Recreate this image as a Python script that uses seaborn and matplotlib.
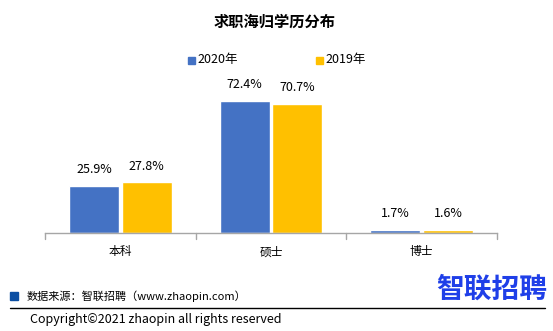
import matplotlib
matplotlib.use("Agg")
import matplotlib.pyplot as plt
import seaborn as sns
import pandas as pd
from matplotlib.patches import Rectangle
from matplotlib.lines import Line2D

categories = ["本科", "硕士", "博士"]
series_names = ["2020年", "2019年"]
values_2020 = [25.9, 72.4, 1.7]
values_2019 = [27.8, 70.7, 1.6]
colors = ["#4472C4", "#FFC000"]

sns.set_theme(style="white")
plt.rcParams["font.family"] = ["Noto Sans CJK SC", "DejaVu Sans"]

df = pd.DataFrame({
    "cat": categories * 2,
    "year": [series_names[0]] * 3 + [series_names[1]] * 3,
    "val": values_2020 + values_2019,
})

W, H = 553, 331
fig = plt.figure(figsize=(W / 100, H / 100), dpi=100)
ax = fig.add_axes([45 / W, 1 - 233 / H, 452 / W, (233 - 69) / H])

sns.barplot(data=df, x="cat", y="val", hue="year", order=categories,
            hue_order=series_names, palette=colors, width=0.70, gap=0.05,
            saturation=1, ax=ax, legend=False, errorbar=None)

ax.set_ylim(0, 90)
ax.set_xlim(-0.5, 2.5)
ax.set_xlabel("")
ax.set_ylabel("")
ax.set_yticks([])
for s in ["top", "right", "left"]:
    ax.spines[s].set_visible(False)
ax.spines["bottom"].set_color("#A6A6A6")
ax.spines["bottom"].set_linewidth(1)
ax.set_xticks([0, 1, 2])
ax.set_xticklabels(categories, fontsize=8.5, color="#000000")
ax.tick_params(axis="x", length=0, pad=9)
for xb in [-0.5, 0.5, 1.5, 2.5]:
    ax.plot([xb, xb], [0, -3.5], color="#A6A6A6", lw=1, clip_on=False)

for cont in ax.containers:
    ax.bar_label(cont, labels=[f"{v.get_height():.1f}%" for v in cont],
                 padding=7, fontsize=9, color="#000000")

fig.text(275 / W, 1 - 22 / H, "求职海归学历分布", ha="center", va="center",
         fontsize=11, fontweight="bold", color="#000000")

# legend
for (x0, name, c) in [(188, series_names[0], colors[0]), (316, series_names[1], colors[1])]:
    fig.patches.append(Rectangle((x0 / W, 1 - 64 / H), 7 / W, 7 / H,
                                 transform=fig.transFigure, color=c))
    fig.text((x0 + 9) / W, 1 - 60 / H, name, ha="left", va="center",
             fontsize=9, color="#000000")

# footer
fig.patches.append(Rectangle((10 / W, 1 - 300 / H), 8 / W, 8 / H,
                             transform=fig.transFigure, color="#0B4EA2"))
fig.text(27 / W, 1 - 296 / H, "数据来源：智联招聘（www.zhaopin.com）", ha="left",
         va="center", fontsize=8, color="#000000")
fig.lines.append(Line2D([10 / W, 545 / W], [1 - 307.5 / H, 1 - 307.5 / H],
                        transform=fig.transFigure, color="#000000", lw=1))
fig.text(30 / W, 1 - 320 / H, "Copyright©2021 zhaopin all rights reserved",
         ha="left", va="center", fontsize=9, color="#000000")
fig.text(492 / W, 1 - 290 / H, "智联招聘", ha="center", va="center",
         fontsize=20, fontweight="bold", color="#1F3FE8")

fig.savefig("out.png", dpi=100, facecolor="white")
